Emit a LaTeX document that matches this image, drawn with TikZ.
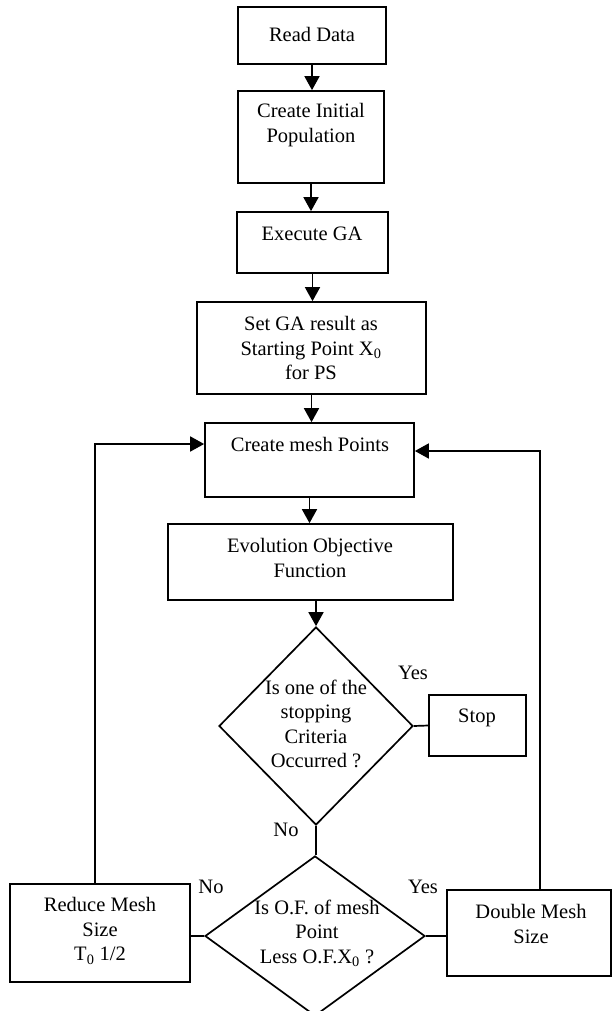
\documentclass[tikz,border=0pt]{standalone}
\usepackage{fontspec}
\setmainfont{Liberation Serif}
\usetikzlibrary{arrows.meta,shapes.geometric}
\begin{document}
\begin{tikzpicture}[x=1pt,y=-1pt,
  box/.style={draw, line width=1.7pt, rectangle, inner sep=0pt},
  dia/.style={draw, line width=1.7pt, diamond, inner sep=0pt},
  txt/.style={align=center, inner sep=0pt, font=\fontsize{20.5}{24.5}\selectfont},
  arr/.style={-{Triangle[width=15pt,length=14pt]}, line width=1.7pt},
  ln/.style={line width=1.7pt}]
\useasboundingbox (0,0) rectangle (612,1011);
% boxes
\node[box, minimum width=148pt, minimum height=57pt] (read) at (312,35.5) {};
\node[box, minimum width=146pt, minimum height=92pt] (init) at (311,137) {};
\node[box, minimum width=151pt, minimum height=61pt] (exec) at (312.5,242.5) {};
\node[box, minimum width=229pt, minimum height=92pt] (setga) at (311.5,348) {};
\node[box, minimum width=209pt, minimum height=74pt] (mesh) at (309.5,460) {};
\node[box, minimum width=285pt, minimum height=76pt] (eval) at (310.5,562) {};
\node[dia, minimum width=194pt, minimum height=198pt] (d1) at (316,726) {};
\node[box, minimum width=97pt, minimum height=61pt] (stop) at (477.5,725.5) {};
\node[dia, minimum width=220pt, minimum height=160pt] (d2) at (315,936) {};
\node[box, minimum width=180pt, minimum height=98pt] (reduce) at (100,933) {};
\node[box, minimum width=164pt, minimum height=86pt] (double) at (529,933) {};
% texts
\node[txt] (tread) at (312,34) {Read Data};
\node[txt] (tinit) at (311,125) {Create Initial\\Population};
\node[txt] (texec) at (312,234) {Execute GA};
\node[txt] (tsetga) at (311,348) {Set GA result as\\Starting Point X\textsubscript{0}\\for PS};
\node[txt] (tmesh) at (310,444) {Create mesh Points};
\node[txt] (teval) at (310,558) {Evolution Objective\\Function};
\node[txt] (td1) at (316,724) {Is one of the\\stopping\\Criteria\\Occurred ?};
\node[txt] (tstop) at (477,718) {Stop};
\node[txt] (td2) at (317,933) {Is O.F. of mesh\\Point\\Less O.F.X\textsubscript{0} ?};
\node[txt] (treduce) at (100,931) {Reduce Mesh\\Size\\T\textsubscript{0} 1/2};
\node[txt] (tdouble) at (531,924) {Double Mesh\\Size};
% labels
\node[txt] (yes1) at (413,673) {Yes};
\node[txt] (no1) at (286,830) {No};
\node[txt] (no2) at (211,887) {No};
\node[txt] (yes2) at (423,887) {Yes};
% connectors
\draw[arr] (read.south) -- (read.south |- init.north);
\draw[arr] (init.south) -- (init.south |- exec.north);
\draw[arr] (exec.south) -- (exec.south |- setga.north);
\draw[arr] (setga.south) -- (setga.south |- mesh.north);
\draw[arr] (mesh.south) -- (mesh.south |- eval.north);
\draw[arr] (eval.south -| d1.north) -- (d1.north);
\draw[ln] (d1.east) -- (stop.west);
\draw[ln] (d1.south) -- (d1.south |- d2.north);
\draw[ln] (d2.west) -- (reduce.east |- d2.west);
\draw[ln] (d2.east) -- (double.west |- d2.east);
\draw[arr] ([xshift=-5pt]reduce.north) |- ([yshift=16pt]mesh.west);
\draw[arr] ([xshift=11pt]double.north) |- ([yshift=9pt]mesh.east);
\end{tikzpicture}
\end{document}
